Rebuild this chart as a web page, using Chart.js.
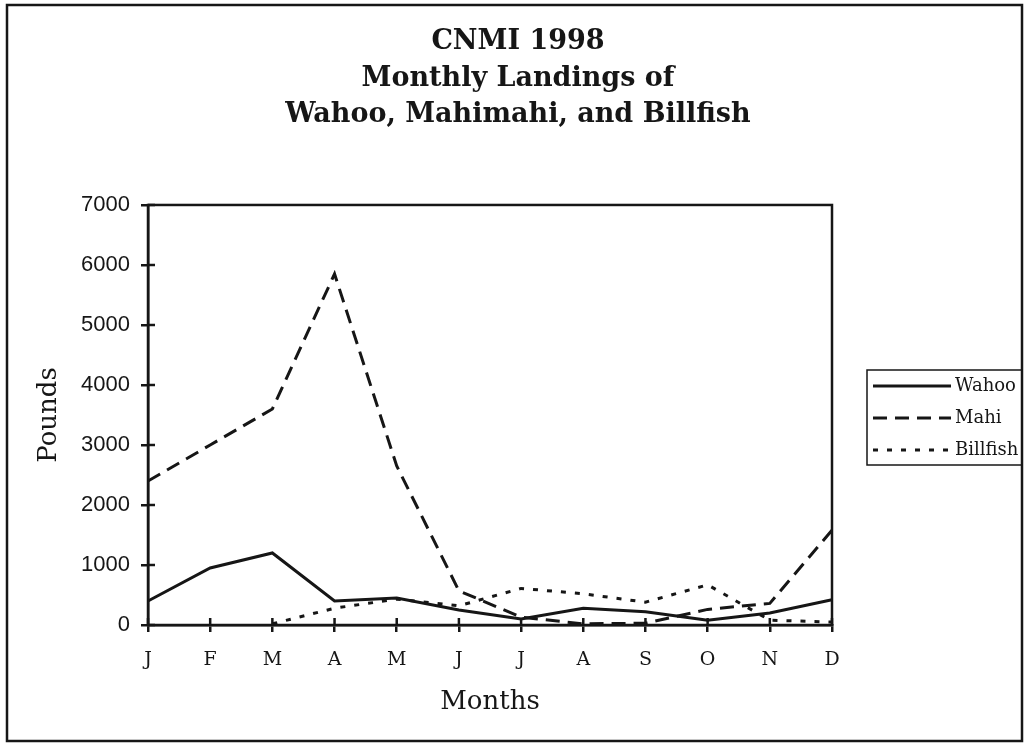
<!DOCTYPE html>
<html>
<head>
<meta charset="utf-8">
<script src="https://cdn.jsdelivr.net/npm/chart.js@4"></script>
<style>
  html, body { margin: 0; padding: 0; background: #fff; }
  #wrap { width: 1028px; height: 746px; }
</style>
</head>
<body>
<div id="wrap"><canvas id="myChart" width="1028" height="746"></canvas></div>
<script>
const ctx = document.getElementById('myChart').getContext('2d');

// data (pounds)
let months = ['J','F','M','A','M','J','J','A','S','O','N','D'];
let wahoo = [400, 950, 1200, 400, 450, 250, 100, 280, 220, 80, 200, 420];
let mahi = [2400, 3000, 3600, 5850, 2650, 570, 130, 20, 30, 260, 360, 1580];
let billfish = [null, null, 20, 280, 430, 320, 610, 520, 380, 670, 80, 50];
let seriesNames = ['Wahoo', 'Mahi', 'Billfish'];
let yTicks = [0, 1000, 2000, 3000, 4000, 5000, 6000, 7000];

const ink = '#161616';

// page frame, plot box and inner tick marks
const framePlugin = {
    id: 'frame',
    beforeDraw(chart) {
        const c = chart.ctx;
        c.save();
        c.fillStyle = '#fff';
        c.fillRect(0, 0, chart.width, chart.height);
        c.strokeStyle = ink;
        c.lineWidth = 2.5;
        c.strokeRect(7, 5, 1015, 736);
        c.restore();
    },
    afterDatasetsDraw(chart) {
        const c = chart.ctx;
        const a = chart.chartArea;
        const x = chart.scales.x, y = chart.scales.y;
        c.save();
        c.strokeStyle = ink;
        c.lineWidth = 2.5;
        c.strokeRect(a.left, a.top, a.right - a.left, a.bottom - a.top);
        c.beginPath();
        x.ticks.forEach((t, i) => {
            const px = x.getPixelForTick(i);
            c.moveTo(px, a.bottom);
            c.lineTo(px, a.bottom - 7);
        });
        y.ticks.forEach((t, i) => {
            const py = y.getPixelForTick(i);
            c.moveTo(a.left, py);
            c.lineTo(a.left + 7, py);
        });
        c.stroke();
        c.restore();
    }
};

// boxed legend at the right
const legendBox = {
    id: 'legendBox',
    afterDraw(chart) {
        const c = chart.ctx;
        const bx = 867, by = 370, bw = 155, bh = 95;
        c.save();
        c.strokeStyle = ink;
        c.lineWidth = 1.5;
        c.strokeRect(bx, by, bw, bh);
        c.font = '18px "DejaVu Serif"';
        c.textBaseline = 'middle';
        c.fillStyle = ink;
        chart.data.datasets.forEach((ds, i) => {
            const ly = by + 16 + i * 32;
            c.beginPath();
            c.setLineDash(ds.borderDash || []);
            c.lineWidth = ds.borderWidth;
            c.moveTo(873, ly);
            c.lineTo(951, ly);
            c.stroke();
            c.setLineDash([]);
            c.fillText(ds.label, 955, ly);
        });
        c.restore();
    }
};

const myChart = new Chart(ctx, {
    type: 'line',
    data: {
        labels: months,
        datasets: [{
            label: seriesNames[0],
            data: wahoo,
            borderColor: ink,
            borderWidth: 3,
            borderDash: [],
            pointRadius: 0,
            tension: 0
        }, {
            label: seriesNames[1],
            data: mahi,
            borderColor: ink,
            borderWidth: 3,
            borderDash: [14, 8],
            pointRadius: 0,
            tension: 0
        }, {
            label: seriesNames[2],
            data: billfish,
            borderColor: ink,
            borderWidth: 3,
            borderDash: [5, 9],
            pointRadius: 0,
            tension: 0
        }]
    },
    options: {
        responsive: false,
        animation: false,
        layout: { padding: { left: 8, right: 0, top: 5, bottom: 8 } },
        plugins: {
            legend: { display: false },
            tooltip: { enabled: false },
            title: {
                display: true,
                text: ['CNMI 1998', 'Monthly Landings of', 'Wahoo, Mahimahi, and Billfish'],
                color: ink,
                font: { family: '"DejaVu Serif"', size: 27, weight: 'bold', lineHeight: 1.37 },
                padding: { top: 18, bottom: 71 }
            }
        },
        scales: {
            x: {
                type: 'category',
                offset: false,
                afterFit: s => { s.height = 113; },
                grid: { drawOnChartArea: false, drawTicks: true, tickLength: 7, color: ink, lineWidth: 2.5 },
                border: { display: true, color: ink, width: 2.5 },
                ticks: { color: ink, padding: 17, maxRotation: 0, autoSkip: false,
                         font: { family: '"DejaVu Serif"', size: 19 } },
                title: { display: true, text: 'Months', color: ink,
                         font: { family: '"DejaVu Serif"', size: 26 }, padding: { top: 4, bottom: 20 } }
            },
            y: {
                min: 0,
                max: 7000,
                afterFit: s => { s.width = 140; },
                afterBuildTicks: s => { s.ticks = yTicks.map(v => ({ value: v })); },
                grid: { drawOnChartArea: false, drawTicks: true, tickLength: 7, color: ink, lineWidth: 2.5 },
                border: { display: true, color: ink, width: 2.5 },
                ticks: { color: ink, padding: 11, callback: v => String(v),
                         font: { family: '"Liberation Sans"', size: 22 } },
                title: { display: true, text: 'Pounds', color: ink,
                         font: { family: '"DejaVu Serif"', size: 26 }, padding: { top: 26, bottom: 0 } }
            },
            // empty right-hand strip that keeps room for the legend box
            room: {
                type: 'linear',
                position: 'right',
                display: true,
                afterFit: s => { s.width = 196; },
                grid: { display: false, drawTicks: false },
                border: { display: false },
                ticks: { display: false }
            }
        }
    },
    plugins: [framePlugin, legendBox]
});
</script>
</body>
</html>
